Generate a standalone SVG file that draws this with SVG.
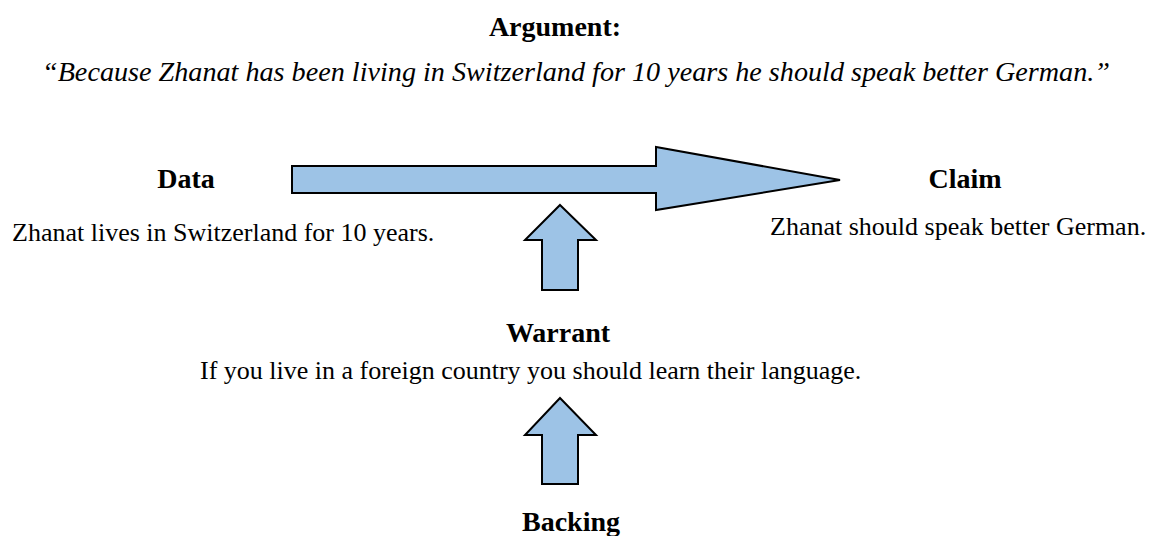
<svg xmlns="http://www.w3.org/2000/svg" width="1152" height="536" viewBox="0 0 1152 536">
<style>
.b{font-family:"Liberation Serif",serif;font-weight:bold;font-size:28px;fill:#000;text-anchor:middle}
.n{font-family:"Liberation Serif",serif;font-size:26px;fill:#000}
.q{font-family:"Liberation Serif",serif;font-style:italic;font-size:27px;fill:#000}
.arr{fill:#9dc3e6;stroke:#000;stroke-width:2;stroke-linejoin:miter}
</style>
<rect width="1152" height="536" fill="#fff"/>
<g id="argument">
<text class="b" x="555" y="36">Argument:</text>
<text class="q" x="42" y="81" textLength="1068" lengthAdjust="spacingAndGlyphs">“Because Zhanat has been living in Switzerland for 10 years he should speak better German.”</text>
</g>
<g id="data">
<text class="b" x="186" y="188">Data</text>
<text class="n" x="12" y="241">Zhanat lives in Switzerland for 10 years.</text>
</g>
<g id="claim">
<text class="b" x="965" y="188">Claim</text>
<text class="n" x="770" y="235">Zhanat should speak better German.</text>
</g>
<g id="warrant">
<text class="b" x="558" y="342">Warrant</text>
<text class="n" x="200" y="379">If you live in a foreign country you should learn their language.</text>
</g>
<g id="backing">
<text class="b" x="571" y="531">Backing</text>
</g>
<g id="connectors">
<polygon class="arr" points="292,166 656,166 656,147 840,180 656,210 656,193 292,193"/>
<polygon class="arr" points="560,205 596,240 578,240 578,290 542,290 542,240 525,240"/>
<polygon class="arr" points="560,398 596,435 578,435 578,484 542,484 542,435 525,435"/>
</g>
</svg>
